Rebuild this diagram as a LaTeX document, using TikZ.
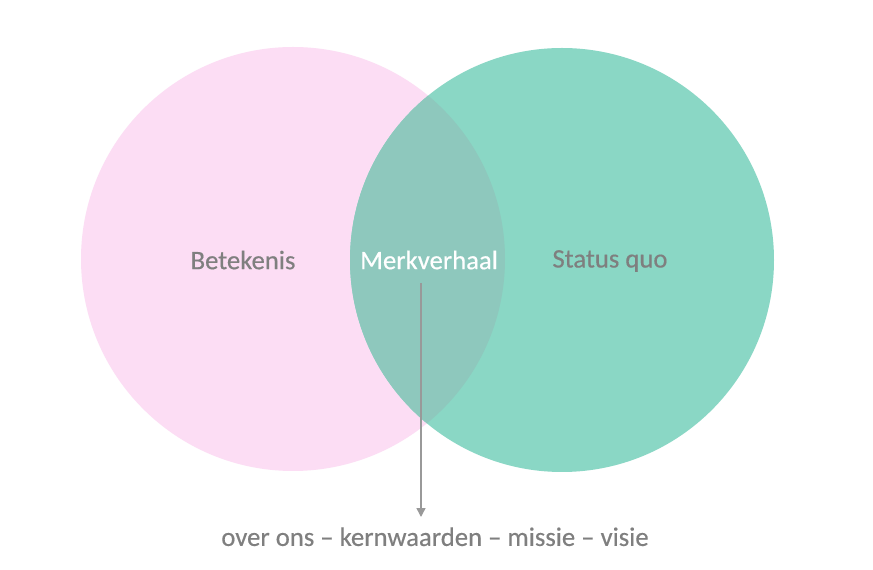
\documentclass[tikz,border=0pt]{standalone}
\usepackage{fontspec}
\setmainfont{Carlito}
\newfontface\dik[FakeBold=0.4, Ligatures=TeX]{Carlito}
\usetikzlibrary{arrows.meta}
\definecolor{roze}{HTML}{FCDDF4}
\definecolor{groen}{HTML}{8AD7C5}
\definecolor{overlap}{HTML}{8EC8BD}
\definecolor{tekst}{HTML}{7F7F7F}
\begin{document}
\begin{tikzpicture}[x=0.02cm, y=-0.02cm,
label/.style={inner sep=0, text=tekst, font=\dik\fontsize{15.2}{18}\selectfont},
wit/.style={inner sep=0, text=white, font=\dik\fontsize{15.2}{18}\selectfont},
pijl/.style={-{Triangle[length=5pt, width=5pt]}, draw=tekst!80, line width=.8pt}]
\useasboundingbox (0,0) rectangle (873,570);
\fill[white] (0,0) rectangle (873,570);
\coordinate (L) at (293,259);
\coordinate (R) at (562,260);
\fill[roze] (L) circle (212);
\fill[groen] (R) circle (212);
\begin{scope}
\clip (L) circle (212);
\fill[overlap] (R) circle (212);
\end{scope}
\node[label] (betekenis) at (243,260) {Betekenis};
\node[wit] (merk) at (429,260) {Merkverhaal};
\node[label] (status) at (610,261) {Status quo};
\coordinate (A) at (421,283);
\node[label, anchor=north] (lijst) at (435,527) {over ons -- kernwaarden -- missie -- visie};
\draw[pijl] (A) -- (421,517);
\end{tikzpicture}
\end{document}
